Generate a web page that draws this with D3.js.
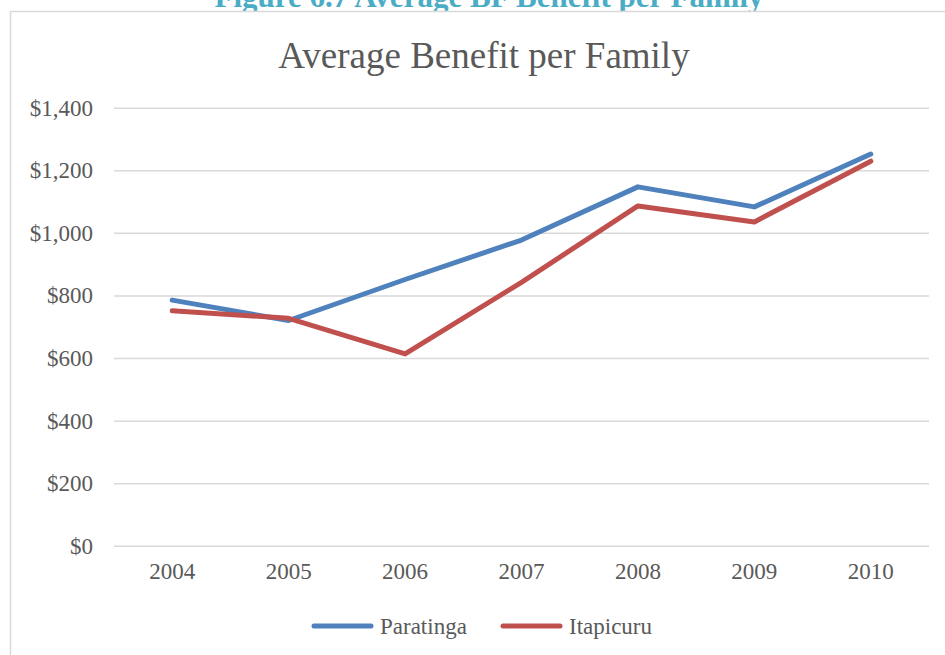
<!DOCTYPE html>
<html>
<head>
<meta charset="utf-8">
<script src="https://cdn.jsdelivr.net/npm/d3@7"></script>
<style>
  html, body { margin: 0; padding: 0; background: #fff; }
  svg { display: block; font-family: 'Liberation Serif', 'Times New Roman', serif; }
  svg text { font-family: 'Liberation Serif', 'Times New Roman', serif !important; }
</style>
</head>
<body>
<svg id="chart" width="945" height="655"></svg>
<script>
// Average benefit per family, by municipality
const years = ["2004", "2005", "2006", "2007", "2008", "2009", "2010"];
const paratinga = [785, 720, 851, 977, 1147, 1083, 1252];
const itapicuru = [751, 727, 613, 842, 1086, 1035, 1229];
const yTicks = [0, 200, 400, 600, 800, 1000, 1200, 1400];
const seriesNames = ["Paratinga", "Itapicuru"];
const seriesColors = ["#4f81bd", "#c0504d"];

const series = [
  { name: seriesNames[0], color: seriesColors[0], values: paratinga },
  { name: seriesNames[1], color: seriesColors[1], values: itapicuru }
];

const svg = d3.select("#chart");
const font = "'Liberation Serif', 'Times New Roman', serif";
const textColor = "#595959";

// Figure caption above the chart frame
svg.append("text")
  .attr("x", 489).attr("y", 7)
  .attr("text-anchor", "middle")
  .attr("font-family", font)
  .style("font-weight", "bold")
  .style("font-size", "31px")
  .style("fill", "#4bacc6")
  .text("Figure 6.7 Average BF Benefit per Family");

// Chart frame
svg.append("rect")
  .attr("x", 10.5).attr("y", 11.5)
  .attr("width", 960).attr("height", 700)
  .attr("fill", "#fff")
  .attr("stroke", "#d9d9d9")
  .attr("stroke-width", 1.5);

// Title
svg.append("text")
  .attr("x", 484).attr("y", 68)
  .attr("text-anchor", "middle")
  .attr("font-family", font)
  .style("font-size", "37px")
  .style("fill", textColor)
  .text("Average Benefit per Family");

const plot = { left: 114, right: 929, top: 107.7, bottom: 545.8 };

const x = d3.scaleBand().domain(years).range([plot.left, plot.right]);
const y = d3.scaleLinear().domain([0, 1400]).range([plot.bottom, plot.top]);

// Gridlines and value labels
const yAxis = svg.append("g")
  .attr("transform", `translate(${plot.left},0)`)
  .call(d3.axisLeft(y)
    .tickValues(yTicks)
    .tickSize(-(plot.right - plot.left))
    .tickPadding(21)
    .tickFormat(d => "$" + d3.format(",")(d)))
  .attr("font-family", font);
yAxis.select(".domain").remove();
yAxis.selectAll(".tick line")
  .attr("stroke", "#d9d9d9")
  .attr("stroke-width", 1.5);
yAxis.selectAll(".tick text")
  .attr("font-family", font)
  .style("font-size", "23px")
  .style("fill", textColor);

// Category labels
const xAxis = svg.append("g")
  .attr("transform", `translate(0,${plot.bottom})`)
  .call(d3.axisBottom(x).tickSize(0).tickPadding(17))
  .attr("font-family", font);
xAxis.select(".domain").remove();
xAxis.selectAll(".tick text")
  .attr("font-family", font)
  .style("font-size", "23px")
  .style("fill", textColor);

// Series lines
const line = d3.line()
  .x((d, i) => x(years[i]) + x.bandwidth() / 2)
  .y(d => y(d));

svg.selectAll(".series")
  .data(series)
  .join("path")
  .attr("class", "series")
  .attr("d", d => line(d.values))
  .attr("fill", "none")
  .attr("stroke", d => d.color)
  .attr("stroke-width", 5)
  .attr("stroke-linecap", "round")
  .attr("stroke-linejoin", "round");

// Legend
const legendX = [314, 503];
const legend = svg.selectAll(".legend")
  .data(series)
  .join("g")
  .attr("class", "legend")
  .attr("transform", (d, i) => `translate(${legendX[i]},626)`);
legend.append("line")
  .attr("x1", 0).attr("x2", 57)
  .attr("y1", 0).attr("y2", 0)
  .attr("stroke", d => d.color)
  .attr("stroke-width", 5)
  .attr("stroke-linecap", "round");
legend.append("text")
  .attr("x", 66).attr("y", 0)
  .attr("dy", "0.34em")
  .attr("font-family", font)
  .style("font-size", "23px")
  .style("fill", textColor)
  .text(d => d.name);
</script>
</body>
</html>
